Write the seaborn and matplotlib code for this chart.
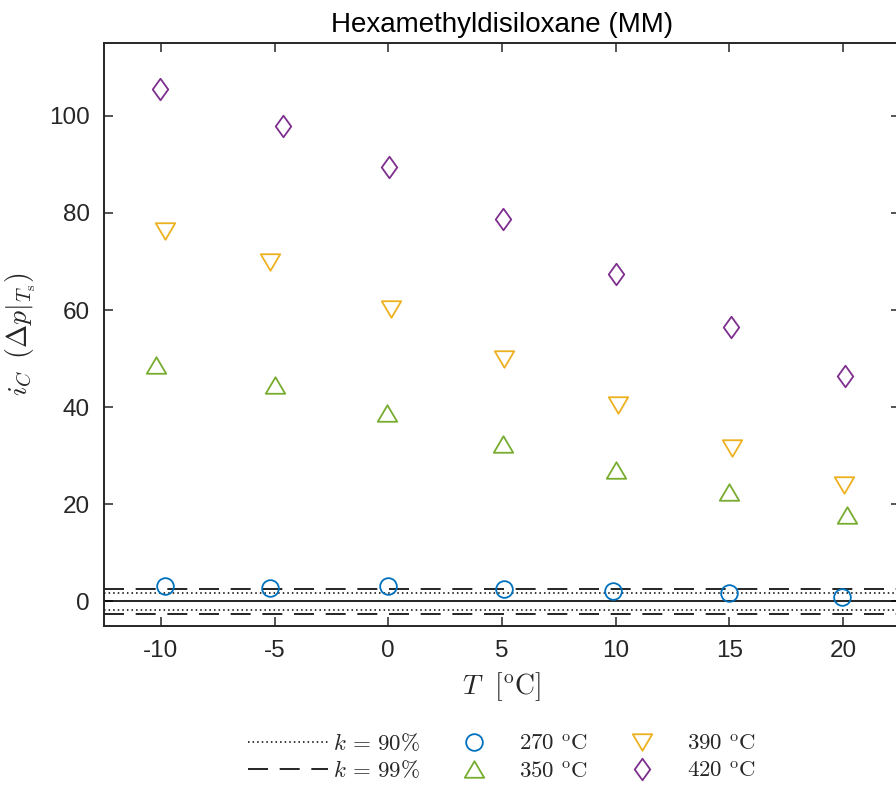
import numpy as np
import pandas as pd
import matplotlib
matplotlib.use("Agg")
import matplotlib.pyplot as plt
from matplotlib.path import Path
from matplotlib.lines import Line2D
import seaborn as sns

# ---- data ----
T_270 = [-9.8, -5.2, 0.0, 5.1, 9.9, 15.0, 19.95]
i_270 = [3.1, 2.8, 3.2, 2.6, 2.2, 1.65, 1.0]
T_350 = [-10.2, -5.0, -0.05, 5.05, 10.0, 15.0, 20.15]
i_350 = [48.7, 44.5, 38.9, 32.5, 27.1, 22.5, 17.9]
T_390 = [-9.8, -5.2, 0.1, 5.1, 10.1, 15.1, 20.05]
i_390 = [76.3, 70.0, 60.2, 50.0, 40.4, 31.5, 23.9]
T_420 = [-10.05, -4.65, 0.05, 5.05, 10.0, 15.05, 20.1]
i_420 = [105.6, 97.9, 89.4, 78.8, 67.5, 56.5, 46.5]

series_labels = ["270 °C", "350 °C", "390 °C", "420 °C"]
k90 = 1.7
k99 = 2.6
x_ticks = [-10, -5, 0, 5, 10, 15, 20]
y_ticks = [0, 20, 40, 60, 80, 100]

# ---- style ----
sns.set_theme(style="ticks")
plt.rcParams["font.family"] = ["Liberation Sans", "DejaVu Sans"]
plt.rcParams["mathtext.fontset"] = "cm"

AX = "#262626"
colors = ["#0072BD", "#77AC30", "#EDB120", "#7E2F8E"]

tri_up = Path([(-1, -0.85), (1, -0.85), (0, 0.85), (-1, -0.85)],
              [Path.MOVETO, Path.LINETO, Path.LINETO, Path.CLOSEPOLY])
tri_dn = Path([(-1, 0.85), (1, 0.85), (0, -0.85), (-1, 0.85)],
              [Path.MOVETO, Path.LINETO, Path.LINETO, Path.CLOSEPOLY])
diamond = Path([(0, 1), (0.72, 0), (0, -1), (-0.72, 0), (0, 1)],
               [Path.MOVETO, Path.LINETO, Path.LINETO, Path.LINETO, Path.CLOSEPOLY])
markers = ["o", tri_up, tri_dn, diamond]
msizes = [12, 14, 14, 15.5]

fig = plt.figure(figsize=(8.96, 7.85), dpi=100)
ax = fig.add_axes([104 / 896, 1 - 625.7 / 785, (900 - 104) / 896, (625.7 - 43) / 785])

DOT = (0, (1, 2.0))
DASH = (0, (12, 7))

# reference bands
ax.axhline(0, color="black", lw=1.2, zorder=1)
for s in (1, -1):
    ax.axhline(s * k90, color="black", lw=1.1, ls=DOT, zorder=1)
    ax.axhline(s * k99, color="black", lw=1.2, ls=DASH, zorder=1)

Ts = [T_270, T_350, T_390, T_420]
Is = [i_270, i_350, i_390, i_420]
handles = [Line2D([], [], color="black", lw=1.1, ls=DOT),
           Line2D([], [], color="black", lw=1.2, ls=DASH)]
labels = [r"$k\,=\,90\%$", r"$k\,=\,99\%$"]
for T, I, lab, c, m, ms in zip(Ts, Is, series_labels, colors, markers, msizes):
    df = pd.DataFrame({"T": T, "i": I})
    sns.lineplot(data=df, x="T", y="i", ax=ax, linestyle="", marker=m, ms=ms,
                 mfc="none", mec=c, mew=1.3, color=c, sort=False, zorder=3)
    handles.append(Line2D([], [], linestyle="", marker=m, ms=ms, mfc="none",
                          mec=c, mew=1.3))
    labels.append(r"$" + lab.replace(" °C", r"\ ^{\mathrm{o}}\mathrm{C}") + r"$")

ax.set_xlim(-12.5, 22.5)
ax.set_ylim(-5, 115)
ax.set_xticks(x_ticks)
ax.set_xticklabels([str(v) for v in x_ticks])
ax.set_yticks(y_ticks)
ax.set_yticklabels([str(v) for v in y_ticks])
ax.tick_params(direction="in", length=6.5, width=1.1, top=True, right=True,
               colors=AX, labelsize=17.5, pad=10)
for sp in ax.spines.values():
    sp.set_visible(True)
    sp.set_color(AX)
    sp.set_linewidth(1.4)

ax.set_title("Hexamethyldisiloxane (MM)", fontsize=20, color="black", pad=8)
ax.set_xlabel(r"$T\ \ [^{\mathrm{o}}\mathrm{C}]$", fontsize=20, color=AX, labelpad=6)
ax.set_ylabel(r"$i_C\ \,(\Delta p|_{T_{\mathrm{s}}})$", fontsize=20, color=AX, labelpad=8)

leg = fig.legend(handles, labels, ncol=3, loc="center",
                 bbox_to_anchor=(502 / 896, 1 - 757 / 785), frameon=False,
                 fontsize=16.5, handlelength=3.5, handletextpad=0.22,
                 columnspacing=0.6, labelspacing=0.15)

fig.savefig("out.png", dpi=100)
